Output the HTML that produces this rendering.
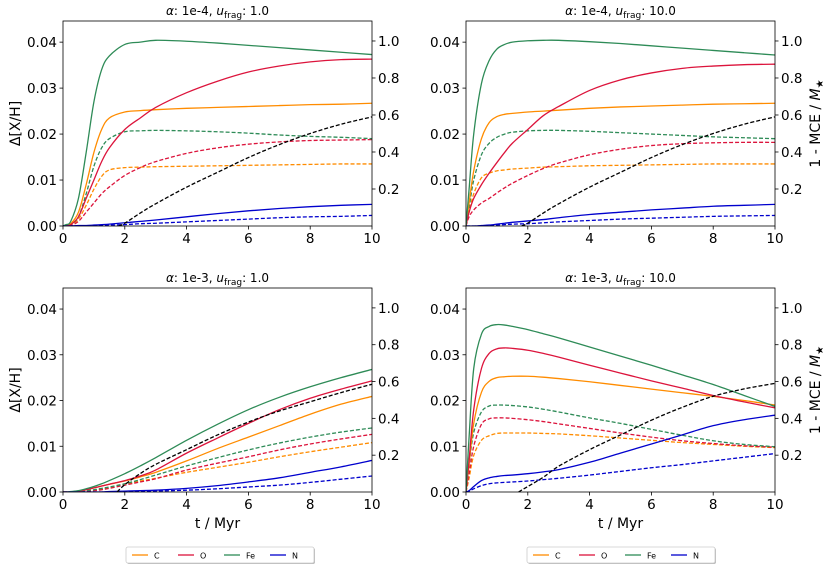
<!DOCTYPE html>
<html><head><meta charset="utf-8"><style>
body{margin:0;background:#fff;font-family:"Liberation Sans","DejaVu Sans",sans-serif}
svg text{font-family:"DejaVu Sans","Liberation Sans",sans-serif}
</style></head><body>
<svg id="fig" width="830" height="570" viewBox="0 0 830 570" xmlns="http://www.w3.org/2000/svg"></svg>
<script>
const T=[0,0.1,0.25,0.5,0.75,1,1.25,1.5,2,2.5,3,4,5,6,7,8,9,10];
const mceT1=[1.8,2,2.5,3,4,5,6,7,8,9,10];
const mceV1=[0,0.015,0.07,0.12,0.21,0.29,0.37,0.44,0.50,0.55,0.59];
const mceT3=[1.75,2,2.5,3,4,5,6,7,8,9,10];
const mceV3=[0,0.04,0.10,0.15,0.23,0.31,0.38,0.44,0.49,0.54,0.585];
const mceT4=[1.7,2,2.5,3,4,5,6,7,8,9,10];
const mceV4=[0,0.03,0.08,0.14,0.23,0.31,0.39,0.46,0.52,0.56,0.59];
const p1Fe=[0,0.0003,0.001,0.006,0.016,0.027,0.034,0.037,0.0395,0.040,0.0404,0.0402,0.0398,0.0393,0.0388,0.0383,0.0378,0.0373];
const p1C=[0,0.0002,0.0005,0.003,0.009,0.016,0.021,0.0235,0.0248,0.0251,0.0253,0.0256,0.0258,0.026,0.0262,0.0264,0.0265,0.0267];
const p1O=[0,0.0001,0.0003,0.002,0.006,0.010,0.014,0.017,0.021,0.0235,0.0258,0.029,0.0315,0.0335,0.0348,0.0357,0.0362,0.0363];
const p1FeD=[0,0.0001,0.0003,0.002,0.007,0.013,0.017,0.019,0.0205,0.0207,0.0208,0.0207,0.0205,0.0202,0.0198,0.0195,0.0193,0.019];
const p1CD=[0,0.0001,0.0002,0.0015,0.0045,0.008,0.0108,0.0122,0.0127,0.0128,0.0129,0.013,0.0131,0.0132,0.0133,0.0134,0.0135,0.0135];
const p1OD=[0,0,0.0001,0.001,0.003,0.005,0.007,0.0085,0.011,0.0127,0.014,0.0158,0.017,0.0178,0.0183,0.0186,0.0187,0.0188];
const p1N=[0,0,0,0.0001,0.0001,0.0002,0.0003,0.0004,0.0007,0.001,0.0013,0.002,0.0027,0.0033,0.0038,0.0042,0.0045,0.0047];
const p1ND=[0,0,0,0,0,0.0001,0.0001,0.0002,0.0003,0.0005,0.0006,0.0009,0.0012,0.0015,0.0018,0.002,0.0021,0.0023];
const p2Fe=[0,0.008,0.02,0.031,0.036,0.0385,0.0395,0.040,0.0403,0.0404,0.0404,0.0401,0.0397,0.0392,0.0387,0.0382,0.0377,0.0372];
const p2C=[0,0.005,0.012,0.019,0.0225,0.0238,0.0243,0.0245,0.0248,0.025,0.0252,0.0256,0.0259,0.0261,0.0263,0.0265,0.0266,0.0267];
const p2O=[0,0.003,0.006,0.009,0.0115,0.0138,0.016,0.018,0.021,0.024,0.026,0.0295,0.0318,0.0333,0.0343,0.0348,0.0351,0.0352];
const p2FeD=[0,0.004,0.01,0.0155,0.018,0.0193,0.02,0.0204,0.0207,0.0208,0.0208,0.0206,0.0203,0.02,0.0197,0.0194,0.0192,0.019];
const p2CD=[0,0.003,0.007,0.0105,0.0115,0.012,0.0122,0.0124,0.0126,0.0128,0.0129,0.0131,0.0132,0.0133,0.0134,0.0135,0.0135,0.0135];
const p2OD=[0,0.002,0.0035,0.005,0.006,0.0072,0.0083,0.0093,0.011,0.0125,0.0137,0.0155,0.0167,0.0175,0.0179,0.0181,0.0182,0.0182];
const p2N=[0,0,0,0.0001,0.0002,0.0004,0.0006,0.0008,0.0011,0.0014,0.0018,0.0025,0.003,0.0035,0.0039,0.0043,0.0045,0.0047];
const p2ND=[0,0,0,0,0.0001,0.0002,0.0003,0.0004,0.0005,0.0007,0.0009,0.0012,0.0015,0.0017,0.0019,0.0021,0.0022,0.0023];
const p3Fe=[0,0,0.0001,0.0003,0.0007,0.0012,0.0018,0.0025,0.004,0.0057,0.0075,0.0113,0.0148,0.018,0.0207,0.023,0.025,0.0268];
const p3C=[0,0,0,0.0002,0.0005,0.0009,0.0013,0.0017,0.0024,0.0033,0.0043,0.0068,0.0095,0.012,0.0145,0.017,0.0192,0.0209];
const p3O=[0,0,0,0.0002,0.0005,0.0009,0.0013,0.0017,0.0025,0.0035,0.0048,0.0085,0.0118,0.015,0.018,0.0205,0.0225,0.0243];
const p3FeD=[0,0,0,0.0001,0.0003,0.0005,0.0008,0.0011,0.0018,0.0027,0.0037,0.0057,0.0075,0.0092,0.0107,0.012,0.0131,0.014];
const p3CD=[0,0,0,0.0001,0.0002,0.0004,0.0006,0.0009,0.0017,0.0024,0.003,0.0043,0.0054,0.0065,0.0077,0.0088,0.0098,0.0108];
const p3OD=[0,0,0,0.0001,0.0002,0.0003,0.0005,0.0008,0.0015,0.0022,0.0029,0.0048,0.0063,0.0077,0.0092,0.0105,0.0116,0.0126];
const p3N=[0,0,0,0,0,0,0,0.0001,0.0002,0.0003,0.0004,0.0008,0.0014,0.0022,0.0031,0.0043,0.0055,0.0069];
const p3ND=[0,0,0,0,0,0,0,0,0.0001,0.0001,0.0002,0.0004,0.0007,0.0011,0.0015,0.0021,0.0028,0.0035];
const p4Fe=[0,0.012,0.027,0.0345,0.0362,0.0366,0.0365,0.0362,0.0355,0.0346,0.0337,0.0317,0.0297,0.0277,0.0256,0.0235,0.0211,0.0187];
const p4C=[0,0.006,0.015,0.0218,0.0242,0.025,0.0252,0.0253,0.0253,0.0251,0.0248,0.0241,0.0233,0.0225,0.0217,0.0209,0.02,0.019];
const p4O=[0,0.007,0.018,0.027,0.0303,0.0313,0.0315,0.0314,0.031,0.0303,0.0295,0.0277,0.026,0.0243,0.0227,0.0211,0.0197,0.0184];
const p4FeD=[0,0.006,0.013,0.0175,0.0188,0.019,0.019,0.0189,0.0186,0.0181,0.0175,0.0162,0.015,0.0137,0.0124,0.0112,0.0104,0.0099];
const p4CD=[0,0.003,0.008,0.0113,0.0123,0.0128,0.0129,0.0129,0.0129,0.0128,0.0127,0.0123,0.0118,0.0113,0.0108,0.0104,0.01,0.0097];
const p4OD=[0,0.004,0.01,0.0148,0.016,0.0162,0.0162,0.0161,0.0158,0.0154,0.0149,0.0139,0.0129,0.012,0.0112,0.0106,0.0101,0.0098];
const p4N=[0,0.0003,0.0012,0.0025,0.0031,0.0034,0.0036,0.0037,0.004,0.0044,0.0049,0.0065,0.0085,0.0105,0.0125,0.0145,0.0158,0.0168];
const p4ND=[0,0.0002,0.0007,0.0014,0.0018,0.002,0.0021,0.0022,0.0024,0.0027,0.003,0.0037,0.0045,0.0053,0.006,0.0068,0.0076,0.0084];
const xTicks=[0,2,4,6,8,10];
const yTicks=[0,0.01,0.02,0.03,0.04];
const yTickLabels=["0.00","0.01","0.02","0.03","0.04"];
const rTicks=[0.2,0.4,0.6,0.8,1.0];
const rTickLabels=["0.2","0.4","0.6","0.8","1.0"];
const titles=["1e-4","1.0","1e-4","10.0","1e-3","1.0","1e-3","10.0"];
const elements=["C","O","Fe","N"];
const COL={C:"#ff8c00",O:"#dc143c",Fe:"#2e8b57",N:"#0000cd"};

const NS="http://www.w3.org/2000/svg";
const svg=document.getElementById("fig");
function mk(tag,attrs,parent){const e=document.createElementNS(NS,tag);for(const k in attrs)e.setAttribute(k,attrs[k]);(parent||svg).appendChild(e);return e;}
function smooth(pts){let d="M"+pts[0][0].toFixed(2)+","+pts[0][1].toFixed(2);
 for(let i=0;i<pts.length-1;i++){const p0=pts[Math.max(0,i-1)],p1=pts[i],p2=pts[i+1],p3=pts[Math.min(pts.length-1,i+2)];
 const c1=[p1[0]+(p2[0]-p0[0])/6,p1[1]+(p2[1]-p0[1])/6],c2=[p2[0]-(p3[0]-p1[0])/6,p2[1]-(p3[1]-p1[1])/6];
 d+=" C"+c1[0].toFixed(2)+","+c1[1].toFixed(2)+" "+c2[0].toFixed(2)+","+c2[1].toFixed(2)+" "+p2[0].toFixed(2)+","+p2[1].toFixed(2);}
 return d;}

const panels=[
 {x0:63,x1:372,y0:21,y1:226,series:[p1C,p1O,p1Fe,p1N],dashed:[p1CD,p1OD,p1FeD,p1ND],mt:mceT1,mv:mceV1,left:true,right:false,bottom:false,ti:0},
 {x0:466,x1:775,y0:21,y1:226,series:[p2C,p2O,p2Fe,p2N],dashed:[p2CD,p2OD,p2FeD,p2ND],mt:mceT1,mv:mceV1,left:false,right:true,bottom:false,ti:1},
 {x0:63,x1:372,y0:288,y1:492,series:[p3C,p3O,p3Fe,p3N],dashed:[p3CD,p3OD,p3FeD,p3ND],mt:mceT3,mv:mceV3,left:true,right:false,bottom:true,ti:2},
 {x0:466,x1:775,y0:288,y1:492,series:[p4C,p4O,p4Fe,p4N],dashed:[p4CD,p4OD,p4FeD,p4ND],mt:mceT4,mv:mceV4,left:false,right:true,bottom:true,ti:3}
];
panels.forEach((P,pi)=>{
 const g=mk("g",{});
 
 
 const yMax=0.04*(P.y1-P.y0)/(P.y1-P.y0-184*(P.y1-P.y0)/205)*0+0.0446;
 const sx=v=>P.x0+(P.x1-P.x0)*v/10;
 const sy=v=>P.y1-(P.y1-P.y0)*v/yMax;
 const sr=v=>P.y1-(P.y1-P.y0)*v/1.108;
 const clip="clip"+pi;
 const cp=mk("clipPath",{id:clip},g);mk("rect",{x:P.x0,y:P.y0,width:P.x1-P.x0,height:P.y1-P.y0},cp);
 const lg=mk("g",{"clip-path":"url(#"+clip+")"},g);
 // dashed first then solid
 P.dashed.forEach((arr,i)=>{const p=mk("path",{d:smooth(arr.map((v,j)=>[sx(T[j]),sy(v)])),fill:"none",stroke:COL[elements[i]],"stroke-width":1.3,"stroke-dasharray":"4,2"},lg);
  
  });
 P.series.forEach((arr,i)=>{const p=mk("path",{d:smooth(arr.map((v,j)=>[sx(T[j]),sy(v)])),fill:"none",stroke:COL[elements[i]],"stroke-width":1.3},lg);
  
  });
 const m=mk("path",{d:smooth(P.mt.map((t,j)=>[sx(t),sr(P.mv[j])])),fill:"none",stroke:"#000","stroke-width":1.3,"stroke-dasharray":"4,2"},lg);
 
 
 mk("rect",{x:P.x0,y:P.y0,width:P.x1-P.x0,height:P.y1-P.y0,fill:"none",stroke:"#000","stroke-width":0.8},g);
 xTicks.forEach(t=>{mk("line",{x1:sx(t),x2:sx(t),y1:P.y1,y2:P.y1+3.5,stroke:"#000","stroke-width":0.8},g);
  const tx=mk("text",{x:sx(t),y:P.y1+17,"font-size":13.5,"text-anchor":"middle"},g);tx.textContent=t;
  });
 yTicks.forEach((t,i)=>{mk("line",{x1:P.x0-3.5,x2:P.x0,y1:sy(t),y2:sy(t),stroke:"#000","stroke-width":0.8},g);
  const tx=mk("text",{x:P.x0-6,y:sy(t)+5,"font-size":13.5,"text-anchor":"end"},g);tx.textContent=yTickLabels[i];
  });
 rTicks.forEach((t,i)=>{mk("line",{x1:P.x1,x2:P.x1+3.5,y1:sr(t),y2:sr(t),stroke:"#000","stroke-width":0.8},g);
  const tx=mk("text",{x:P.x1+6,y:sr(t)+5,"font-size":13.5},g);tx.textContent=rTickLabels[i];
  });
 const cx=(P.x0+P.x1)/2;
 const tt=mk("text",{x:cx,y:P.y0-6,"font-size":12,"text-anchor":"middle"},g);
 tt.innerHTML='<tspan font-style="italic">α</tspan>: '+titles[P.ti*2]+', <tspan font-style="italic">u</tspan><tspan font-size="9" dy="3">frag</tspan><tspan dy="-3">: '+titles[P.ti*2+1]+'</tspan>';
 
 if(P.left){const t=mk("text",{x:0,y:0,"font-size":14,"text-anchor":"middle",transform:"translate(20,"+((P.y0+P.y1)/2)+") rotate(-90)"},g);t.textContent="Δ[X/H]";
  }
 if(P.right){const t=mk("text",{x:0,y:0,"font-size":14,"text-anchor":"middle",transform:"translate(820,"+((P.y0+P.y1)/2)+") rotate(-90)"},g);
  t.innerHTML='1 - MCE / <tspan font-style="italic">M</tspan><tspan font-size="10" dy="3">★</tspan>';
  }
 if(P.bottom){const t=mk("text",{x:cx,y:P.y1+36,"font-size":14,"text-anchor":"middle"},g);t.textContent="t / Myr";
  }
});
[[126,188],[527,188]].forEach((L,li)=>{
 const g=mk("g",{});
 
 
 mk("rect",{x:L[0]+1,y:548,width:L[1],height:16,fill:"#bbb",rx:2},g);
 mk("rect",{x:L[0],y:547,width:L[1],height:16,fill:"#fff",stroke:"#ccc","stroke-width":0.8,rx:2},g);
 elements.forEach((e,i)=>{const x=L[0]+6+i*46;
  mk("line",{x1:x,x2:x+16,y1:555,y2:555,stroke:COL[e],"stroke-width":1.3},g);
  const t=mk("text",{x:x+22,y:558.5,"font-size":8},g);t.textContent=e;
  });
});
</script>
</body></html>
